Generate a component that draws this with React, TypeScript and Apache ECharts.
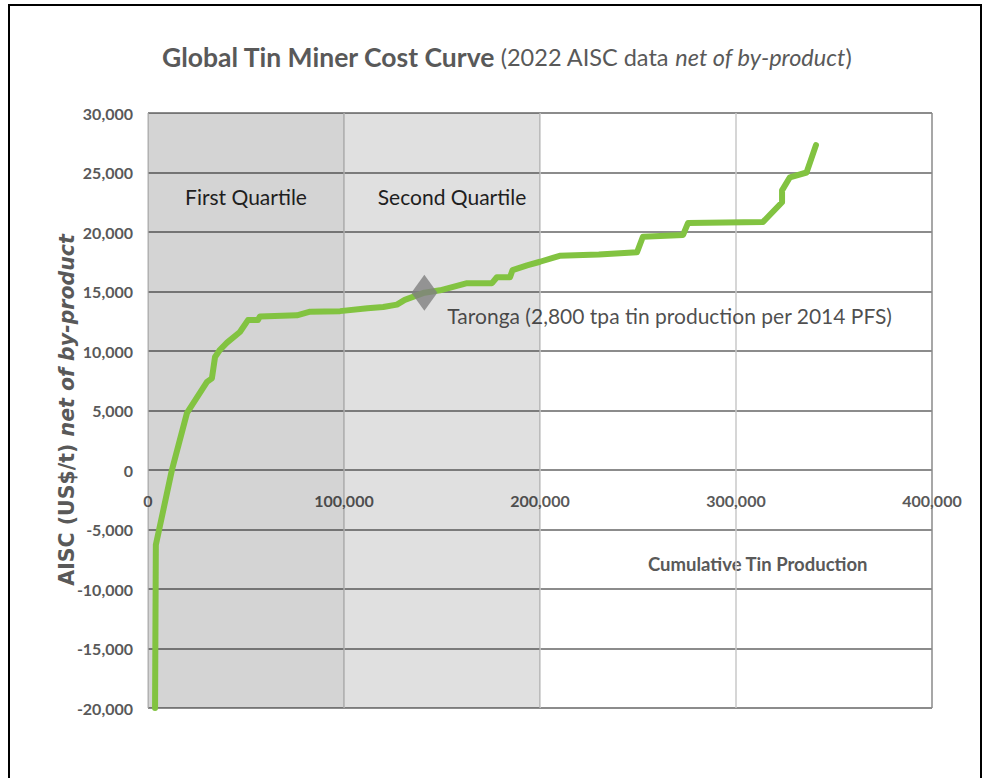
import React, { useEffect, useRef } from "react";
import * as echarts from "echarts";

// Cumulative tin production (t) along the cost curve, and AISC net of by-product (US$/t)
const cumulativeProduction = [
  3600, 4000, 12200, 19900, 30100, 32600, 34200, 36700, 40300, 46900, 51000, 56100, 57100,
  76000, 82700, 98000, 112000, 120000, 127000, 131000, 141000, 149000, 162800, 175500,
  178000, 184700, 186000, 193400, 200000, 210000, 230000, 249500, 252500, 273000, 275500,
  313800, 323500, 323500, 327500, 336000, 340800,
];
const aiscCost = [
  -20000, -6300, 0, 4800, 7400, 7700, 9500, 10100, 10700, 11600, 12600, 12600, 12900,
  13000, 13300, 13350, 13600, 13700, 13900, 14300, 14900, 15100, 15700, 15700,
  16200, 16200, 16800, 17200, 17500, 18000, 18100, 18300, 19600, 19750, 20750,
  20850, 22500, 23500, 24600, 25000, 27300,
];

// Taronga project position on the curve
const tarongaPoint = [141000, 14900];
const tarongaLabel = "Taronga (2,800 tpa tin production per 2014 PFS)";

// Quartile bands on the production axis
const quartileNames = ["First Quartile", "Second Quartile"];
const quartileBounds = [
  [0, 100000],
  [100000, 200000],
];

const yTicks = { min: -20000, max: 30000, interval: 5000 };
const xTicks = { min: 0, max: 400000, interval: 100000 };

const FONT = "Lato, 'Open Sans', sans-serif";
const WIDE = "'DejaVu Sans', Verdana, sans-serif";
const fmt = (v: number) => v.toLocaleString("en-US");

// plot box in pixels
const GRID = { left: 148, right: 53, top: 113, bottom: 70 };
const PLOT_H = 778 - GRID.top - GRID.bottom;
// distance from the bottom edge up to the zero line, so x labels sit under it
const zeroLift = (PLOT_H * (0 - yTicks.min)) / (yTicks.max - yTicks.min);

export default function App() {
  const ref = useRef<HTMLDivElement>(null);

  useEffect(() => {
    document.body.style.margin = "0";
    const chart = echarts.init(ref.current!, null, { renderer: "svg" });
    const curve = cumulativeProduction.map((x, i) => [x, aiscCost[i]]);

    chart.setOption({
      animation: false,
      backgroundColor: "#ffffff",
      title: {
        left: 157,
        top: 38,
        text: "{m|Global Tin Miner Cost Curve} {s|(2022 AISC data }{it|net of by-product}{s|)}",
        textStyle: {
          rich: {
            m: { fontFamily: FONT, fontSize: 26.5, fontWeight: "bold", color: "#595959" },
            s: { fontFamily: FONT, fontSize: 23.5, fontWeight: "normal", color: "#595959" },
            it: { fontFamily: FONT, fontSize: 23.5, fontWeight: "normal", fontStyle: "italic", color: "#595959" },
          },
        },
      },
      grid: { ...GRID, containLabel: false },
      xAxis: {
        type: "value",
        min: xTicks.min,
        max: xTicks.max,
        interval: xTicks.interval,
        axisLine: { show: false },
        axisTick: { show: false },
        axisLabel: {
          margin: 22 - zeroLift,
          verticalAlign: "top",
          color: "#595959",
          fontFamily: FONT,
          fontWeight: "bold",
          fontSize: 16,
          formatter: (v: number) => fmt(v),
        },
        splitLine: {
          show: true,
          lineStyle: {
            color: ["#c8c8c8", "#c8c8c8", "#c8c8c8", "#c8c8c8", "#8a8a8a"],
            width: 1.5,
          },
        },
      },
      yAxis: {
        type: "value",
        min: yTicks.min,
        max: yTicks.max,
        interval: yTicks.interval,
        axisLine: { show: false },
        axisTick: { show: false },
        axisLabel: {
          margin: 15,
          color: "#595959",
          fontFamily: FONT,
          fontWeight: "bold",
          fontSize: 16,
          formatter: (v: number) => fmt(v),
        },
        splitLine: { show: true, lineStyle: { color: "#8c8c8c", width: 2 } },
      },
      series: [
        {
          type: "line",
          data: curve,
          showSymbol: false,
          symbol: "none",
          lineStyle: { color: "#82c341", width: 6, join: "round", cap: "round" },
          z: 3,
          markArea: {
            silent: true,
            data: quartileBounds.map((b, i) => [
              {
                xAxis: b[0],
                yAxis: yTicks.min,
                name: quartileNames[i],
                itemStyle: { color: i === 0 ? "rgba(0,0,0,0.17)" : "rgba(0,0,0,0.12)" },
                label: {
                  show: true,
                  position: "insideTop",
                  distance: 73,
                  offset: i === 0 ? [0, 0] : [10, 0],
                  color: "#1e1e1e",
                  fontFamily: FONT,
                  fontSize: 21,
                },
              },
              { xAxis: b[1], yAxis: yTicks.max },
            ]),
          },
        },
        {
          type: "scatter",
          data: [tarongaPoint],
          symbol: "diamond",
          symbolSize: [26, 36],
          itemStyle: { color: "#7f7f7f" },
          z: 4,
          label: {
            show: true,
            formatter: tarongaLabel,
            position: [36, 41],
            align: "left",
            verticalAlign: "middle",
            color: "#1e1e1e",
            fontFamily: FONT,
            fontSize: 21,
          },
        },
      ],
      graphic: [
        {
          // vertical axis title
          type: "text",
          x: 67,
          y: 410,
          rotation: Math.PI / 2,
          style: {
            text: "{b|AISC (US$/t) }{i|net of by-product}",
            align: "center",
            verticalAlign: "middle",
            rich: {
              b: { fontFamily: WIDE, fontSize: 20.5, fontWeight: "bold", fill: "#595959" },
              i: { fontFamily: WIDE, fontSize: 20.5, fontWeight: "bold", fontStyle: "italic", fill: "#595959" },
            },
          },
        },
        {
          type: "text",
          left: 648,
          top: 554,
          style: {
            text: "Cumulative Tin Production",
            fill: "#595959",
            font: `bold 18.5px ${FONT}`,
          },
        },
        {
          type: "rect",
          shape: { x: 9, y: 5, width: 972, height: 820 },
          style: { fill: "none", stroke: "#000000", lineWidth: 2 },
          silent: true,
        },
      ],
    });

    return () => chart.dispose();
  }, []);

  return (
    <div
      ref={ref}
      style={{ position: "fixed", left: 0, top: 0, width: 985, height: 778 }}
    />
  );
}
